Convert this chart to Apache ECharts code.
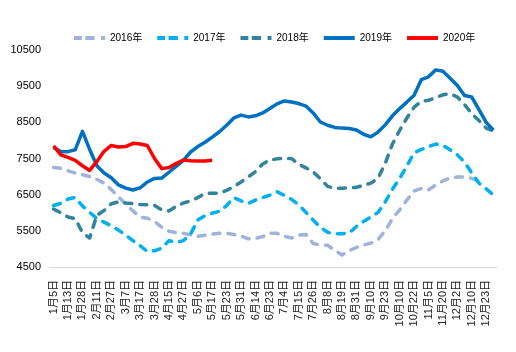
<!DOCTYPE html>
<html>
<head>
<meta charset="utf-8">
<script src="https://cdn.jsdelivr.net/npm/echarts@6/dist/echarts.min.js"></script>
<style>
  html, body { margin: 0; padding: 0; background: #fff; }
  #main { width: 516px; height: 352px; }
</style>
</head>
<body>
<div id="main"></div>
<script>
// 标注的日期（每两个数据点一个标签）
var dateLabels = ['1月5日','1月13日','1月28日','2月11日','2月27日','3月7日','3月17日','3月28日',
  '4月15日','4月27日','5月6日','5月17日','5月23日','5月31日','6月14日','6月23日','7月4日',
  '7月15日','7月26日','8月8日','8月19日','8月31日','9月10日','9月23日','10月10日','10月22日',
  '11月5日','11月20日','12月2日','12月10日','12月23日'];

var years = ['2016年','2017年','2018年','2019年','2020年'];

var data2016 = [7250,7230,7160,7100,7050,7000,6920,6820,6640,6440,6240,6050,5880,5850,5760,5600,
  5490,5450,5430,5390,5350,5380,5410,5430,5430,5400,5360,5280,5290,5340,5430,5430,5350,5300,5380,
  5400,5150,5110,5100,4960,4830,4950,5040,5110,5160,5260,5500,5840,6080,6350,6600,6670,6630,6770,
  6880,6960,6990,6990,6950,6870];
var data2017 = [6200,6260,6380,6420,6190,6010,5840,5740,5640,5520,5380,5230,5090,4930,4950,5020,
  5230,5180,5230,5410,5800,5920,5990,6040,6200,6420,6330,6260,6350,6420,6490,6580,6480,6370,6220,
  6010,5800,5600,5460,5420,5420,5440,5620,5760,5880,6010,6300,6650,6950,7290,7660,7750,7830,7900,
  7860,7740,7600,7400,7100,6820,6660,6490];
var data2018 = [6100,6000,5880,5840,5450,5300,5930,6060,6250,6300,6270,6250,6230,6220,6200,6080,
  6050,6180,6270,6330,6420,6530,6540,6540,6620,6720,6850,6990,7140,7350,7460,7490,7505,7500,7340,
  7240,7130,6940,6730,6676,6676,6690,6700,6760,6820,6950,7370,7900,8280,8620,8920,9080,9110,9180,
  9260,9290,9200,8990,8740,8550,8340,8260];
var data2019 = [7800,7690,7690,7740,8250,7750,7300,7100,6970,6770,6680,6630,6690,6850,6950,6960,
  7120,7280,7450,7680,7830,7950,8090,8240,8420,8620,8700,8650,8680,8760,8880,9010,9090,9060,9020,
  8950,8760,8510,8420,8360,8340,8330,8290,8170,8100,8230,8430,8680,8880,9060,9250,9680,9760,9950,
  9910,9720,9520,9240,9200,8850,8500,8280];
var data2020 = [7850,7600,7530,7450,7300,7170,7420,7700,7860,7820,7830,7920,7900,7860,7500,7220,
  7250,7360,7460,7440,7430,7430,7450];

var yMin = 4500, yMax = 10500, yStep = 1000;

// 类目：标注日期之间夹一个未标注的点
var categories = [];
for (var i = 0; i < dateLabels.length; i++) {
  categories.push(dateLabels[i]);
  categories.push('');
}

var colors = ['#9FB4D8', '#00B0F0', '#31849B', '#0070C0', '#FF0000'];
var seriesData = [data2016, data2017, data2018, data2019, data2020];
var dashed = [true, true, true, false, false];

// 图例图标：虚线 / 实线
var dashIcon = 'path://M0,0H8V4H0Z M11.5,0H21V4H11.5Z M27.5,0H31.5V4H27.5Z';
var solidIcon = 'path://M0,0H31.5V4H0Z';

var series = [];
var legendData = [];
for (var k = 0; k < years.length; k++) {
  series.push({
    name: years[k],
    type: 'line',
    data: seriesData[k],
    symbol: 'none',
    smooth: false,
    lineStyle: {
      color: colors[k],
      width: 3.5,
      type: dashed[k] ? [7, 8] : 'solid',
      cap: dashed[k] ? 'round' : 'butt',
      join: 'round'
    },
    itemStyle: { color: colors[k] }
  });
  legendData.push({ name: years[k], icon: dashed[k] ? dashIcon : solidIcon });
}

var chart = echarts.init(document.getElementById('main'));
chart.setOption({
  animation: false,
  textStyle: { fontFamily: 'Liberation Sans, Noto Sans CJK SC, sans-serif' },
  legend: {
    data: legendData,
    left: 69,
    top: 28,
    itemWidth: 31,
    itemHeight: 4,
    itemGap: 15,
    textStyle: { fontSize: 10, color: '#000' }
  },
  grid: { left: 50, right: 19, top: 50, bottom: 85 },
  xAxis: {
    type: 'category',
    data: categories,
    boundaryGap: true,
    axisTick: { show: false },
    axisLine: { lineStyle: { color: '#D9D9D9', width: 1 } },
    axisLabel: { interval: 1, rotate: 90, fontSize: 11, color: '#222', margin: 13 }
  },
  yAxis: {
    type: 'value',
    min: yMin,
    max: yMax,
    interval: yStep,
    axisLine: { show: false },
    axisTick: { show: false },
    splitLine: { show: false },
    axisLabel: {
      fontSize: 11,
      color: '#000',
      margin: 9,
      formatter: function (v) { return String(v); }
    }
  },
  series: series
});
</script>
</body>
</html>
